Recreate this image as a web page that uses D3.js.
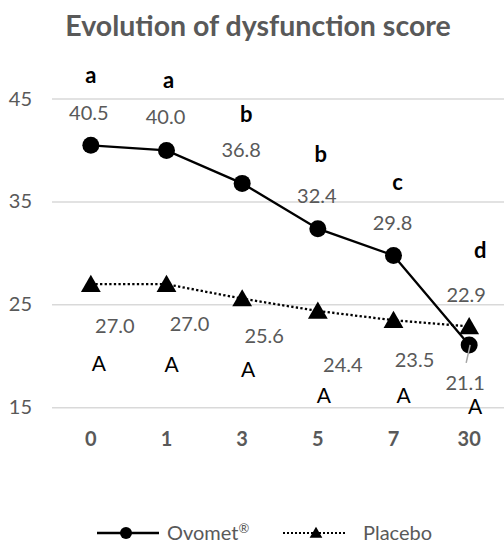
<!DOCTYPE html>
<html>
<head>
<meta charset="utf-8">
<script src="https://cdn.jsdelivr.net/npm/d3@7"></script>
<style>
  body { margin: 0; background: #fff; }
  svg { display: block; }
</style>
</head>
<body>
<svg id="chart" width="504" height="543"></svg>
<script>
const days = ["0", "1", "3", "5", "7", "30"];
const ovomet = [40.5, 40.0, 36.8, 32.4, 29.8, 21.1];
const placebo = [27.0, 27.0, 25.6, 24.4, 23.5, 22.9];
const ovometLetters = ["a", "a", "b", "b", "c", "d"];
const placeboLetters = ["A", "A", "A", "A", "A", "A"];
const yTicks = [15, 25, 35, 45];
const seriesNames = ["Ovomet", "Placebo"];

// labels were placed by hand in the original, so nudge them [dx, dy] from the point
const ovoValNudge = [[-2, -25], [-1, -26], [-1, -26], [-1, -26], [-1, -25], [-4, 45]];
const ovoLetterNudge = [[0, -62], [2, -62], [4, -61], [3, -67], [4, -65], [11, -87]];
const plaValNudge = [[24, 49], [23, 47], [22, 44], [25, 61], [21, 47], [-3, -24]];
const plaLetterNudge = [[8, 87], [5, 88], [6, 78], [6, 92], [10, 83], [6, 88]];

const font = "Lato, 'Open Sans', sans-serif";
const grey = "#595959";

const svg = d3.select("#chart");

const x = d3.scalePoint().domain(days).range([53, 507]).padding(0.5);
const y = d3.scaleLinear().domain([15, 45]).range([407.7, 99]);

// title
svg.append("text")
  .attr("x", 258).attr("y", 36)
  .attr("text-anchor", "middle")
  .attr("font-family", font).attr("font-weight", 700).attr("font-size", 28.5)
  .attr("fill", grey)
  .text("Evolution of dysfunction score");

// gridlines
svg.append("g").selectAll("line").data(yTicks).join("line")
  .attr("x1", 52).attr("x2", 504)
  .attr("y1", d => y(d)).attr("y2", d => y(d))
  .attr("stroke", "#d9d9d9").attr("stroke-width", 1.5);

// y axis labels
svg.append("g").selectAll("text").data(yTicks).join("text")
  .attr("x", 32).attr("y", d => y(d) + 6.5)
  .attr("text-anchor", "end")
  .attr("font-family", font).attr("font-size", 20).attr("fill", grey)
  .text(d => d);

// x axis labels
svg.append("g").selectAll("text").data(days).join("text")
  .attr("x", d => x(d)).attr("y", 446)
  .attr("text-anchor", "middle")
  .attr("font-family", font).attr("font-weight", 700).attr("font-size", 20).attr("fill", grey)
  .text(d => d);

const line = d3.line().x((d, i) => x(days[i])).y(d => y(d));
const tri = d3.symbol().type(d3.symbolTriangle).size(170);

// placebo series
svg.append("path").datum(placebo)
  .attr("d", line).attr("fill", "none")
  .attr("stroke", "#000").attr("stroke-width", 2.3).attr("stroke-dasharray", "2.3,2.3");
svg.append("g").selectAll("path").data(placebo).join("path")
  .attr("d", tri)
  .attr("transform", (d, i) => `translate(${x(days[i])},${y(d) + 2})`)
  .attr("fill", "#000");

// ovomet series
svg.append("path").datum(ovomet)
  .attr("d", line).attr("fill", "none")
  .attr("stroke", "#000").attr("stroke-width", 2.3);
svg.append("g").selectAll("circle").data(ovomet).join("circle")
  .attr("cx", (d, i) => x(days[i])).attr("cy", d => y(d))
  .attr("r", 8.5).attr("fill", "#000");

// leader line for the last ovomet label
const lastI = ovomet.length - 1;
svg.append("line")
  .attr("x1", x(days[lastI]) + 1).attr("y1", y(ovomet[lastI]))
  .attr("x2", x(days[lastI]) - 3).attr("y2", y(ovomet[lastI]) + 18)
  .attr("stroke", "#a6a6a6").attr("stroke-width", 1.5);

// value labels
const valLabels = (vals, nudge) => svg.append("g").selectAll("text").data(vals).join("text")
  .attr("x", (d, i) => x(days[i]) + nudge[i][0])
  .attr("y", (d, i) => y(d) + nudge[i][1])
  .attr("text-anchor", "middle")
  .attr("font-family", font).attr("font-size", 20).attr("fill", grey)
  .text(d => d3.format(".1f")(d));
valLabels(ovomet, ovoValNudge);
valLabels(placebo, plaValNudge);

// significance letters
svg.append("g").selectAll("text").data(ovometLetters).join("text")
  .attr("x", (d, i) => x(days[i]) + ovoLetterNudge[i][0])
  .attr("y", (d, i) => y(ovomet[i]) + ovoLetterNudge[i][1])
  .attr("text-anchor", "middle")
  .attr("font-family", font).attr("font-weight", 700).attr("font-size", 22).attr("fill", "#000")
  .text(d => d);
svg.append("g").selectAll("text").data(placeboLetters).join("text")
  .attr("x", (d, i) => x(days[i]) + plaLetterNudge[i][0])
  .attr("y", (d, i) => y(placebo[i]) + plaLetterNudge[i][1])
  .attr("text-anchor", "middle")
  .attr("font-family", font).attr("font-size", 21).attr("fill", "#000")
  .text(d => d);

// legend
const lg = svg.append("g").attr("transform", "translate(0,533)");
lg.append("line").attr("x1", 97).attr("x2", 159)
  .attr("stroke", "#000").attr("stroke-width", 2.3);
lg.append("circle").attr("cx", 126).attr("r", 6).attr("fill", "#000");
const ovoText = lg.append("text").attr("x", 167).attr("y", 7)
  .attr("font-family", font).attr("font-size", 20).attr("fill", grey)
  .text(seriesNames[0]);
ovoText.append("tspan").attr("font-size", 13).attr("dy", -7).text("®");
lg.append("line").attr("x1", 283).attr("x2", 346)
  .attr("stroke", "#000").attr("stroke-width", 2).attr("stroke-dasharray", "2,2");
lg.append("path").attr("d", d3.symbol().type(d3.symbolTriangle).size(70))
  .attr("transform", "translate(316,1)").attr("fill", "#000");
lg.append("text").attr("x", 363).attr("y", 7)
  .attr("font-family", font).attr("font-size", 20).attr("fill", grey)
  .text(seriesNames[1]);
</script>
</body>
</html>
